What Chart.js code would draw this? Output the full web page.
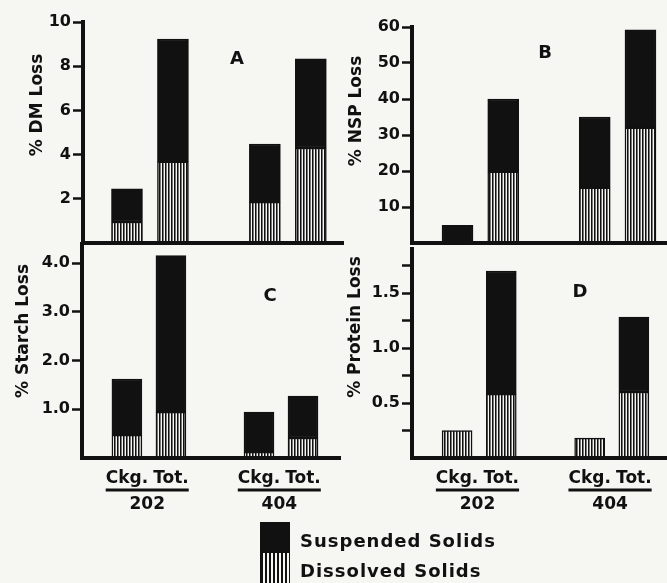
<!DOCTYPE html>
<html lang="en">
<head>
<meta charset="UTF-8">
<title>Solids losses during cooking</title>
<script src="https://cdn.jsdelivr.net/npm/chart.js"></script>
<style>
  body { margin: 0; background: #f6f6f3; }
  #wrap {
    position: relative;
    width: 667px;
    height: 583px;
    overflow: hidden;
    font-family: "DejaVu Sans", sans-serif;
    font-weight: bold;
    color: #111;
  }
  canvas { position: absolute; left: 0; top: 0; }
  .ytitle {
    position: absolute;
    transform: translate(-50%, -50%) rotate(-90deg);
    white-space: nowrap;
    font-size: 17px;
  }
  .letter {
    position: absolute;
    transform: translate(-50%, -50%);
    font-size: 18px;
  }
  .key { position: absolute; left: 260px; width: 30px; box-sizing: border-box; }
  .key-text {
    position: absolute;
    left: 300px;
    transform: translateY(-50%);
    font-size: 18px;
    letter-spacing: 1px;
    white-space: nowrap;
  }
</style>
</head>
<body>
<div id="wrap">
  <canvas id="chartA" width="667" height="583"></canvas>
  <canvas id="chartB" width="667" height="583"></canvas>
  <canvas id="chartC" width="667" height="583"></canvas>
  <canvas id="chartD" width="667" height="583"></canvas>

  <div class="ytitle" style="left:36px;top:105px">% DM Loss</div>
  <div class="ytitle" style="left:355px;top:111px">% NSP Loss</div>
  <div class="ytitle" style="left:22px;top:331px">% Starch Loss</div>
  <div class="ytitle" style="left:354px;top:327px">% Protein Loss</div>

  <div class="letter" style="left:237px;top:57px">A</div>
  <div class="letter" style="left:545px;top:51px">B</div>
  <div class="letter" style="left:270px;top:294px">C</div>
  <div class="letter" style="left:580px;top:290px">D</div>

  <div class="key" id="keySusp" style="top:522px;height:31px;background:#111"></div>
  <div class="key" id="keyDiss" style="top:552px;height:34px;border:1.5px solid #111;
       background:repeating-linear-gradient(90deg,#111 0 2px,#f6f6f3 2px 4px)"></div>
  <div class="key-text" id="txtSusp" style="top:540px"></div>
  <div class="key-text" id="txtDiss" style="top:570px"></div>
</div>

<script>
  // groups / treatments, bars in order: 202 Ckg., 202 Tot., 404 Ckg., 404 Tot.
  const groups = ['202', '404'];
  const treatments = ['Ckg.', 'Tot.'];
  const seriesNames = ['Dissolved Solids', 'Suspended Solids'];

  // A: % DM loss
  const dmDissolved = [0.95, 3.67, 1.85, 4.30];
  const dmSuspended = [1.50, 5.56, 2.63, 4.03];
  // B: % NSP loss
  const nspDissolved = [0, 19.8, 15.3, 32.0];
  const nspSuspended = [4.9, 20.2, 19.7, 27.2];
  // C: % starch loss
  const starchDissolved = [0.47, 0.94, 0.12, 0.41];
  const starchSuspended = [1.15, 3.21, 0.82, 0.86];
  // D: % protein loss
  const proteinDissolved = [0.25, 0.58, 0.18, 0.60];
  const proteinSuspended = [0, 1.12, 0, 0.68];

  // tick labels
  const dmTicks = [2, 4, 6, 8, 10];
  const nspTicks = [10, 20, 30, 40, 50, 60];
  const starchTicks = [1, 2, 3, 4];
  const proteinTicks = [0.25, 0.5, 0.75, 1, 1.25, 1.5, 1.75];
  const proteinLabelled = [0.5, 1, 1.5];

  const INK = '#111';
  const FONT = { family: '"DejaVu Sans", sans-serif', weight: 'bold' };

  document.getElementById('txtSusp').textContent = seriesNames[1];
  document.getElementById('txtDiss').textContent = seriesNames[0];

  // one empty slot between the two groups
  const slotOf = (g, t) => g * (treatments.length + 1) + t;
  const slots = [];
  const slotLabel = {};
  groups.forEach((g, gi) => treatments.forEach((t, ti) => {
    slots.push(slotOf(gi, ti));
    slotLabel[slotOf(gi, ti)] = t;
  }));
  const toPoints = vals => vals.map((v, i) => ({ x: slots[i], y: v }));

  // vertical hatching for the dissolved part
  const pc = document.createElement('canvas');
  pc.width = 3; pc.height = 4;
  const pctx = pc.getContext('2d');
  pctx.fillStyle = '#f6f6f3';
  pctx.fillRect(0, 0, 3, 4);
  pctx.fillStyle = INK;
  pctx.fillRect(0, 0, 1, 4);
  pctx.fillStyle = '#777';
  pctx.fillRect(1, 0, 1, 4);
  const stripes = pctx.createPattern(pc, 'repeat');

  const groupLabels = {
    id: 'groupLabels',
    afterDraw(chart, args, opts) {
      if (!opts.show) return;
      const { ctx, chartArea, scales: { x } } = chart;
      ctx.save();
      ctx.font = 'bold 17px "DejaVu Sans"';
      ctx.fillStyle = INK;
      ctx.strokeStyle = INK;
      ctx.lineWidth = 3;
      ctx.textAlign = 'center';
      ctx.textBaseline = 'middle';
      groups.forEach((g, gi) => {
        const lastT = treatments.length - 1;
        const x1 = x.getPixelForValue(slotOf(gi, 0)) - ctx.measureText(treatments[0]).width / 2;
        const x2 = x.getPixelForValue(slotOf(gi, lastT)) + ctx.measureText(treatments[lastT]).width / 2;
        const yLine = chartArea.bottom + 32;
        ctx.beginPath();
        ctx.moveTo(x1, yLine);
        ctx.lineTo(x2, yLine);
        ctx.stroke();
        ctx.fillText(g, (x1 + x2) / 2, chartArea.bottom + 47);
      });
      ctx.restore();
    }
  };

  function panel(id, o) {
    return new Chart(document.getElementById(id), {
      type: 'bar',
      data: {
        datasets: [
          { label: seriesNames[0], data: toPoints(o.dissolved), backgroundColor: stripes, stack: 'loss' },
          { label: seriesNames[1], data: toPoints(o.suspended), backgroundColor: INK, stack: 'loss' }
        ]
      },
      options: {
        responsive: false,
        animation: false,
        devicePixelRatio: 1,
        layout: { autoPadding: false, padding: o.pad },
        datasets: {
          bar: { barThickness: o.bar, borderColor: INK, borderWidth: 1.5, borderSkipped: false }
        },
        plugins: {
          legend: { display: false },
          tooltip: { enabled: false },
          groupLabels: { show: o.bottom }
        },
        scales: {
          x: {
            type: 'linear',
            offset: false,
            min: o.xMin,
            max: o.xMax,
            grid: { display: false, drawTicks: false, offset: false },
            border: { display: true, width: 4, color: INK, z: 1 },
            ticks: {
              display: o.bottom,
              autoSkip: false,
              maxRotation: 0,
              padding: 10,
              color: INK,
              font: { ...FONT, size: 17 },
              callback: v => slotLabel[v] || ''
            },
            afterBuildTicks: s => { s.ticks = slots.map(v => ({ value: v })); },
            afterFit: s => { s.height = o.bottom ? 30 : 0; }
          },
          y: {
            stacked: true,
            min: 0,
            max: o.yMax,
            grid: { drawOnChartArea: false, drawTicks: true, tickLength: 10, tickWidth: 2.5, tickColor: INK },
            border: { display: true, width: 4, color: INK, z: 1 },
            ticks: {
              padding: 2,
              color: INK,
              font: { ...FONT, size: 16 },
              callback: o.fmt
            },
            afterBuildTicks: s => { s.ticks = o.ticks.map(v => ({ value: v })); },
            afterFit: s => { s.width = 40; }
          }
        }
      },
      plugins: [groupLabels]
    });
  }

  panel('chartA', {
    dissolved: dmDissolved, suspended: dmSuspended, ticks: dmTicks,
    fmt: v => String(v), yMax: 10, xMin: -0.957, xMax: 4.70, bar: 31, bottom: false,
    pad: { left: 43, top: 22, right: 324, bottom: 340 }
  });
  panel('chartB', {
    dissolved: nspDissolved, suspended: nspSuspended, ticks: nspTicks,
    fmt: v => String(v), yMax: 60, xMin: -0.995, xMax: 4.58, bar: 31, bottom: false,
    pad: { left: 372, top: 27, right: 0, bottom: 340 }
  });
  panel('chartC', {
    dissolved: starchDissolved, suspended: starchSuspended, ticks: starchTicks,
    fmt: v => v.toFixed(1), yMax: 4.39, xMin: -1.02, xMax: 4.84, bar: 30, bottom: true,
    pad: { left: 42, top: 244, right: 327, bottom: 95 }
  });
  panel('chartD', {
    dissolved: proteinDissolved, suspended: proteinSuspended, ticks: proteinTicks,
    fmt: v => proteinLabelled.includes(v) ? v.toFixed(1) : '', yMax: 1.9, xMin: -1.02, xMax: 4.75, bar: 30, bottom: true,
    pad: { left: 372, top: 249, right: 0, bottom: 95 }
  });
</script>
</body>
</html>
